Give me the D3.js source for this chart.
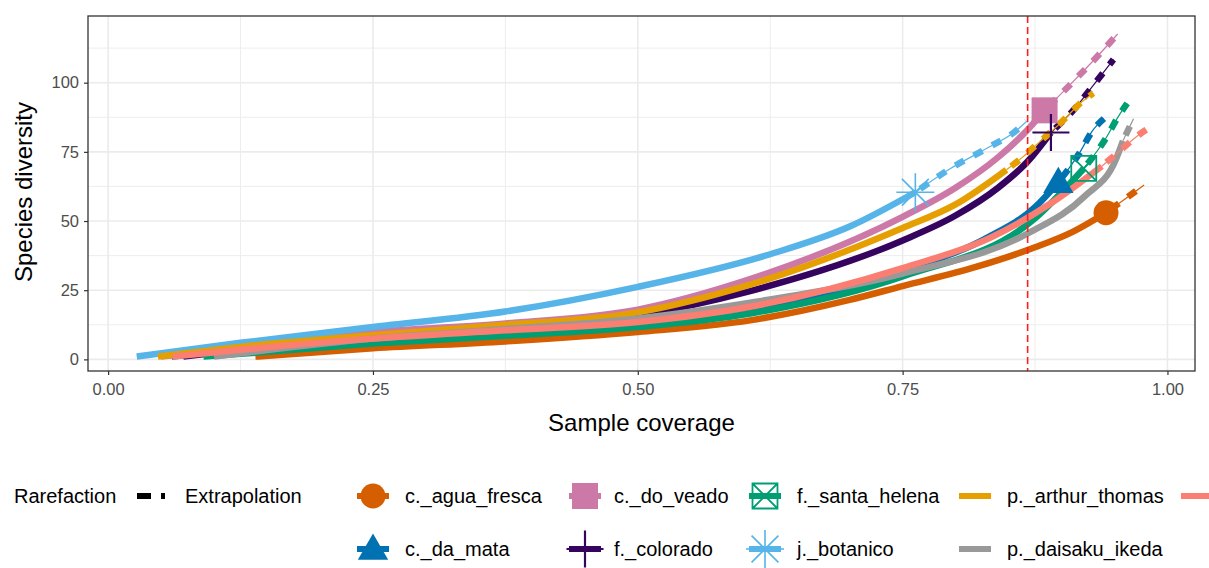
<!DOCTYPE html>
<html>
<head>
<meta charset="utf-8">
<script src="https://cdn.jsdelivr.net/npm/d3@7"></script>
<style>
  body { margin: 0; background: #fff; }
  svg { display: block; font-family: "Liberation Sans", Arial, sans-serif; }
</style>
</head>
<body>
<svg id="chart" width="1209" height="568"></svg>
<script>
// sites, in legend (and drawing) order
var sites = ["c._agua_fresca", "c._da_mata", "c._do_veado", "f._colorado", "f._santa_helena",
             "j._botanico", "p._arthur_thomas", "p._daisaku_ikeda", "p._ecologico"];
var siteColors = ["#D55E00", "#0072B2", "#CC79A7", "#35045E", "#009E73",
                  "#56B4E9", "#E69F00", "#999999", "#FA7F72"];
var siteShapes = ["circle", "triangle", "square", "plus", "squareCross", "asterisk", null, null, null];

// rarefaction curves [coverage, diversity], last point = observed sample
var rareAguaFresca = [[0.139,1],[0.25,4],[0.375,6.5],[0.5,9.9],[0.606,14.1],[0.70,21.5],[0.75,26.5],[0.82,33.5],[0.875,40.5],[0.91,46],[0.942,53]];
var rareDaMata     = [[0.06,1],[0.125,3.5],[0.25,7.5],[0.375,10.5],[0.5,14],[0.625,20],[0.75,32],[0.83,44],[0.875,55],[0.897,64]];
var rareDoVeado    = [[0.05,1],[0.125,4],[0.25,9.8],[0.375,13],[0.5,18],[0.606,29],[0.75,51.5],[0.80,62],[0.84,73],[0.868,83],[0.884,90]];
var rareColorado   = [[0.071,1],[0.125,3.5],[0.25,8],[0.375,12],[0.5,16],[0.606,24.7],[0.75,43],[0.80,52],[0.84,62],[0.868,71.5],[0.89,82]];
var rareSantaHelena= [[0.09,1],[0.125,2],[0.25,5.7],[0.375,8.5],[0.5,11.7],[0.606,16.6],[0.75,30],[0.875,51],[0.921,69]];
var rareBotanico   = [[0.027,1],[0.125,6],[0.25,11.7],[0.375,17.3],[0.5,26.2],[0.625,38],[0.70,48],[0.762,60.4]];
var rareArthur     = [[0.047,1],[0.125,4.5],[0.25,8.7],[0.375,12.5],[0.5,17],[0.606,27],[0.75,47.5],[0.80,56],[0.848,68.5]];
var rareDaisaku    = [[0.10,1],[0.25,7.5],[0.375,11],[0.5,14.8],[0.606,20.5],[0.75,31],[0.868,45.5],[0.922,59],[0.951,72],[0.958,79]];
var rareEcologico  = [[0.061,1],[0.125,3.5],[0.25,7.5],[0.375,10.5],[0.5,13.5],[0.606,19],[0.75,33],[0.833,44],[0.89,56.4],[0.938,69.8]];

// extrapolation curves
var extAguaFresca  = [[0.942,53],[0.96,58],[0.978,63]];
var extDaMata      = [[0.897,64],[0.916,74],[0.93,83],[0.94,87]];
var extDoVeado     = [[0.884,90],[0.91,100],[0.935,110],[0.953,117.6]];
var extColorado    = [[0.89,82],[0.911,90],[0.932,100],[0.949,108.4]];
var extSantaHelena = [[0.921,69],[0.942,80],[0.954,88],[0.962,92.5]];
var extBotanico    = [[0.762,60.4],[0.794,68.7],[0.833,77],[0.855,82],[0.867,86]];
var extArthur      = [[0.848,68.5],[0.863,73],[0.879,78.5],[0.898,85],[0.919,93],[0.93,96.2]];
var extDaisaku     = [[0.958,79],[0.963,83],[0.968,87]];
var extEcologico   = [[0.938,69.8],[0.954,75],[0.976,82],[0.98,83]];

var rareCurves = [rareAguaFresca, rareDaMata, rareDoVeado, rareColorado, rareSantaHelena,
                  rareBotanico, rareArthur, rareDaisaku, rareEcologico];
var extCurves  = [extAguaFresca, extDaMata, extDoVeado, extColorado, extSantaHelena,
                  extBotanico, extArthur, extDaisaku, extEcologico];

var xTicks = [0, 0.25, 0.5, 0.75, 1];
var xMinor = [0.125, 0.375, 0.625, 0.875];
var yTicks = [0, 25, 50, 75, 100];
var yMinor = [12.5, 37.5, 62.5, 87.5, 112.5];
var refCoverage = 0.868;
var lineTypes = ["Rarefaction", "Extrapolation"];

var W = 1209;
var svg = d3.select("#chart");
var panel = {left: 88, right: 1195, top: 16, bottom: 371};

var x = d3.scaleLinear().domain([-0.019, 1.026]).range([panel.left, panel.right]);
var y = d3.scaleLinear().domain([-4.2, 124.1]).range([panel.bottom, panel.top]);

// grid
var grid = svg.append("g");
grid.selectAll("line.xminor").data(xMinor).enter().append("line")
    .attr("x1", d => x(d)).attr("x2", d => x(d)).attr("y1", panel.top).attr("y2", panel.bottom)
    .attr("stroke", "#EDEDED").attr("stroke-width", 1);
grid.selectAll("line.yminor").data(yMinor).enter().append("line")
    .attr("y1", d => y(d)).attr("y2", d => y(d)).attr("x1", panel.left).attr("x2", panel.right)
    .attr("stroke", "#EDEDED").attr("stroke-width", 1);
grid.selectAll("line.xmajor").data(xTicks).enter().append("line")
    .attr("x1", d => x(d)).attr("x2", d => x(d)).attr("y1", panel.top).attr("y2", panel.bottom)
    .attr("stroke", "#EBEBEB").attr("stroke-width", 1.6);
grid.selectAll("line.ymajor").data(yTicks).enter().append("line")
    .attr("y1", d => y(d)).attr("y2", d => y(d)).attr("x1", panel.left).attr("x2", panel.right)
    .attr("stroke", "#EBEBEB").attr("stroke-width", 1.6);

svg.append("clipPath").attr("id", "clip").append("rect")
    .attr("x", panel.left).attr("y", panel.top)
    .attr("width", panel.right - panel.left).attr("height", panel.bottom - panel.top);

var plot = svg.append("g").attr("clip-path", "url(#clip)");
var line = d3.line().x(d => x(d[0])).y(d => y(d[1])).curve(d3.curveMonotoneX);

// curves
sites.forEach(function(s, i) {
    var g = plot.append("g");
    g.append("path").attr("d", line(rareCurves[i]))
        .attr("fill", "none").attr("stroke", siteColors[i]).attr("stroke-width", 6.5);
    g.append("path").attr("d", line(extCurves[i]))
        .attr("fill", "none").attr("stroke", siteColors[i]).attr("stroke-width", 1.2);
    g.append("path").attr("d", line(extCurves[i]))
        .attr("fill", "none").attr("stroke", siteColors[i]).attr("stroke-width", 6.5)
        .attr("stroke-dasharray", "10,11").attr("stroke-dashoffset", -6);
});

// reference coverage line
plot.append("line")
    .attr("x1", x(refCoverage)).attr("x2", x(refCoverage))
    .attr("y1", panel.top).attr("y2", panel.bottom)
    .attr("stroke", "#FF1E1E").attr("stroke-width", 1.6).attr("stroke-dasharray", "7,4");

function drawShape(g, shape, cx, cy, color) {
    if (shape === "circle") {
        g.append("circle").attr("cx", cx).attr("cy", cy).attr("r", 12.5).attr("fill", color);
    } else if (shape === "triangle") {
        g.append("path").attr("d", d3.symbol(d3.symbolTriangle, 400)())
            .attr("transform", "translate(" + cx + "," + (cy + 2) + ")").attr("fill", color);
    } else if (shape === "square") {
        g.append("rect").attr("x", cx - 13).attr("y", cy - 13).attr("width", 26).attr("height", 26).attr("fill", color);
    } else if (shape === "plus") {
        var a = 18.5;
        g.append("path").attr("d", "M" + (cx - a) + "," + cy + "H" + (cx + a) + "M" + cx + "," + (cy - a) + "V" + (cy + a))
            .attr("stroke", color).attr("stroke-width", 2.2).attr("fill", "none");
    } else if (shape === "squareCross") {
        var b = 12.5;
        g.append("path").attr("d", "M" + (cx - b) + "," + (cy - b) + "H" + (cx + b) + "V" + (cy + b) + "H" + (cx - b) + "Z" +
                "M" + (cx - b) + "," + (cy - b) + "L" + (cx + b) + "," + (cy + b) +
                "M" + (cx + b) + "," + (cy - b) + "L" + (cx - b) + "," + (cy + b))
            .attr("stroke", color).attr("stroke-width", 1.8).attr("fill", "none");
    } else if (shape === "asterisk") {
        var c = 19, k = c * 0.7071;
        g.append("path").attr("d", "M" + (cx - c) + "," + cy + "H" + (cx + c) + "M" + cx + "," + (cy - c) + "V" + (cy + c) +
                "M" + (cx - k) + "," + (cy - k) + "L" + (cx + k) + "," + (cy + k) +
                "M" + (cx + k) + "," + (cy - k) + "L" + (cx - k) + "," + (cy + k))
            .attr("stroke", color).attr("stroke-width", 1.6).attr("fill", "none");
    }
}

// observed points
var pts = svg.append("g");
sites.forEach(function(s, i) {
    if (!siteShapes[i]) return;
    var obs = rareCurves[i][rareCurves[i].length - 1];
    drawShape(pts, siteShapes[i], x(obs[0]), y(obs[1]), siteColors[i]);
});

// panel border
svg.append("rect").attr("x", panel.left).attr("y", panel.top)
    .attr("width", panel.right - panel.left).attr("height", panel.bottom - panel.top)
    .attr("fill", "none").attr("stroke", "#333333").attr("stroke-width", 1.3);

// axes
var xAxis = d3.axisBottom(x).tickValues(xTicks).tickFormat(d3.format(".2f")).tickSize(4).tickPadding(8);
var yAxis = d3.axisLeft(y).tickValues(yTicks).tickSize(4).tickPadding(5);
var gx = svg.append("g").attr("transform", "translate(0," + panel.bottom + ")").call(xAxis);
var gy = svg.append("g").attr("transform", "translate(" + panel.left + ",0)").call(yAxis);
[gx, gy].forEach(function(g) {
    g.select(".domain").remove();
    g.selectAll(".tick line").attr("stroke", "#333333").attr("stroke-width", 1.2);
    g.selectAll(".tick text").attr("fill", "#4D4D4D").style("font-size", "16.5px")
        .style("font-family", "'Liberation Sans', Arial, sans-serif");
});

svg.append("text").attr("x", (panel.left + panel.right) / 2).attr("y", 431)
    .attr("text-anchor", "middle").style("font-size", "24px").attr("fill", "#000").text("Sample coverage");
svg.append("text").attr("transform", "translate(32,192) rotate(-90)")
    .attr("text-anchor", "middle").style("font-size", "24px").attr("fill", "#000").text("Species diversity");

// legend: line types
var row1 = 496, row2 = 549;
var lg = svg.append("g");
lg.append("text").attr("x", 14).attr("y", row1).attr("dy", "0.35em").style("font-size", "20px").text(lineTypes[0]);
lg.append("rect").attr("x", 137).attr("y", row1 - 3).attr("width", 14).attr("height", 6).attr("fill", "#000");
lg.append("rect").attr("x", 161).attr("y", row1 - 3).attr("width", 4).attr("height", 6).attr("fill", "#000");
lg.append("text").attr("x", 185).attr("y", row1).attr("dy", "0.35em").style("font-size", "20px").text(lineTypes[1]);

// legend: sites (2 rows, filled by column); the last column runs past the page edge
var colKey = [373, 585, 765, 975, 1197];
var colLabel = [405, 614, 797, 1007, 1229];
sites.forEach(function(s, i) {
    var col = Math.floor(i / 2), row = i % 2;
    var cy = row === 0 ? row1 : row2, cx = colKey[col];
    lg.append("line").attr("x1", cx - 16).attr("x2", cx + 16).attr("y1", cy).attr("y2", cy)
        .attr("stroke", siteColors[i]).attr("stroke-width", 6);
    if (siteShapes[i]) drawShape(lg, siteShapes[i], cx, cy, siteColors[i]);
    if (colLabel[col] < W) {
        lg.append("text").attr("x", colLabel[col]).attr("y", cy).attr("dy", "0.35em")
            .style("font-size", "20px").attr("fill", "#000").text(s);
    }
});
</script>
</body>
</html>
